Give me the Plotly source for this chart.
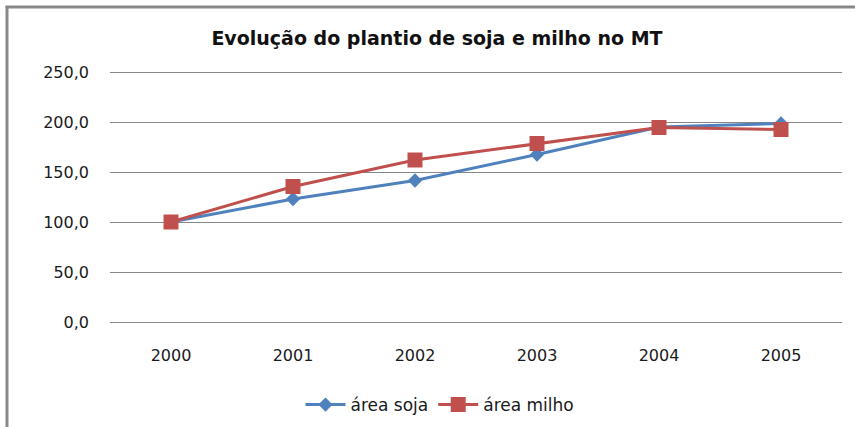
import plotly.graph_objects as go

anos = ["2000", "2001", "2002", "2003", "2004", "2005"]
area_soja = [100.0, 123.0, 141.5, 167.5, 195.0, 198.5]
area_milho = [100.0, 135.5, 162.0, 178.5, 194.5, 192.5]

fig = go.Figure()
fig.add_trace(go.Scatter(
    x=anos, y=area_soja, name="área soja", mode="lines+markers",
    line=dict(color="#4F81BD", width=3),
    marker=dict(symbol="diamond", size=11, color="#4F81BD"),
))
fig.add_trace(go.Scatter(
    x=anos, y=area_milho, name="área milho", mode="lines+markers",
    line=dict(color="#C0504D", width=3),
    marker=dict(symbol="square", size=15, color="#C0504D"),
))

W, H = 855, 427
L, R, T, B = 110, 13, 70, 103
pw, ph = W - L - R, H - T - B

def px_x(p):
    return (p - L) / pw

def px_y(p):
    return (H - B - p) / ph

fig.update_layout(
    width=W, height=H,
    margin=dict(l=L, r=R, t=T, b=B, autoexpand=False),
    paper_bgcolor="white", plot_bgcolor="white",
    separators=", ",
    title=dict(text="<b>Evolução do plantio de soja e milho no MT</b>",
               x=px_x(437), xref="paper", xanchor="center",
               y=1 - 38 / H, yanchor="middle",
               font=dict(family="DejaVu Sans", size=19, color="#111111")),
    font=dict(family="DejaVu Sans", size=16, color="#1a1a1a"),
    xaxis=dict(type="category", range=[-0.5, 5.5], showgrid=False,
               showline=False, zeroline=False, ticks="",
               ticklabelstandoff=20, tickfont=dict(size=16), automargin=False),
    yaxis=dict(range=[-2, 252], tickvals=[0, 50, 100, 150, 200, 250],
               tickformat=".1f",
               showgrid=True, gridcolor="#878787", gridwidth=1,
               zeroline=False, showline=False, ticks="",
               ticklabelstandoff=20, tickfont=dict(size=16), automargin=False),
    legend=dict(orientation="h", x=px_x(440), xanchor="center",
                y=px_y(405), yanchor="middle",
                font=dict(size=17), itemwidth=40),
    showlegend=True,
    shapes=[
        dict(type="line", xref="paper", yref="paper",
             x0=px_x(7), x1=px_x(7), y0=px_y(6), y1=px_y(440),
             line=dict(color="#898989", width=3)),
        dict(type="line", xref="paper", yref="paper",
             x0=px_x(5.5), x1=px_x(870), y0=px_y(7), y1=px_y(7),
             line=dict(color="#898989", width=3)),
    ],
)

fig.write_html("out.html",
               config={"displayModeBar": False},
               post_script="document.body.style.margin='0';document.body.style.padding='0';")
